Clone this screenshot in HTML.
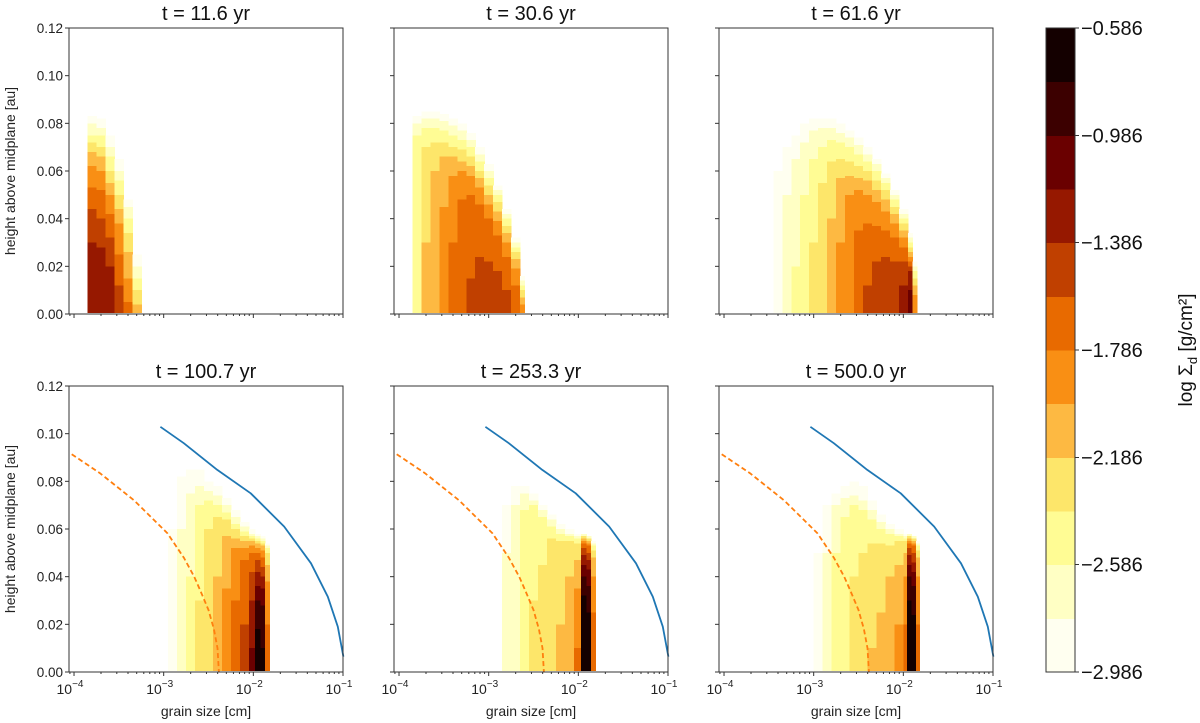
<!DOCTYPE html>
<html><head><meta charset="utf-8"><style>
html,body{margin:0;padding:0;background:#fff}
svg{display:block;font-family:"Liberation Sans","DejaVu Sans",sans-serif}
</style></head><body>
<svg id="fig" width="1200" height="723" viewBox="0 0 1200 723" xmlns="http://www.w3.org/2000/svg">
<g id="plots"></g>
</svg>
<script>
// ---- data ----
const levelColors = ["#fffff0","#ffffc4","#fffc94","#fde66a","#fdb942","#f98f14","#e86a00","#c04000","#961800","#6a0000","#3c0000","#140000"];
const colorbarTicks = ["−0.586","−0.986","−1.386","−1.786","−2.186","−2.586","−2.986"];
const panelTitles = ["t = 11.6 yr","t = 30.6 yr","t = 61.6 yr","t = 100.7 yr","t = 253.3 yr","t = 500.0 yr"];
const yTicks = [0,0.02,0.04,0.06,0.08,0.10,0.12];
const yTickLabels = ["0.00","0.02","0.04","0.06","0.08","0.10","0.12"];
const xTickExp = [-4,-3,-2,-1];
// column edges (log10 grain size) and level heights (au) per panel
const edges1 = [-3.85,-3.75,-3.65,-3.55,-3.45,-3.35,-3.25];
const cols1 = [
 [0.083,0.08,0.075,0.072,0.068,0.062,0.053,0.044,0.03],
 [0.082,0.078,0.075,0.07,0.066,0.06,0.052,0.04,0.028],
 [0.075,0.07,0.066,0.06,0.055,0.05,0.042,0.032,0.02],
 [0.065,0.06,0.056,0.05,0.044,0.038,0.025,0.012],
 [0.048,0.045,0.04,0.034,0.026,0.015,0.005],
 [0.025,0.02,0.015,0.01,0.004]];
const edges2 = [-3.85,-3.75,-3.65,-3.55,-3.45,-3.35,-3.25,-3.15,-3.05,-2.95,-2.85,-2.75,-2.65,-2.6];
const cols2 = [
 [0.083,0.08,0.075],
 [0.085,0.082,0.078,0.07,0.03],
 [0.085,0.082,0.078,0.072,0.06],
 [0.084,0.081,0.077,0.072,0.066,0.045],
 [0.082,0.079,0.075,0.07,0.066,0.058,0.03],
 [0.08,0.077,0.073,0.069,0.064,0.06,0.048],
 [0.076,0.073,0.07,0.066,0.062,0.058,0.05,0.015],
 [0.07,0.067,0.064,0.06,0.057,0.053,0.046,0.024],
 [0.063,0.06,0.057,0.054,0.05,0.046,0.04,0.022],
 [0.054,0.052,0.05,0.047,0.043,0.039,0.033,0.018],
 [0.044,0.042,0.04,0.037,0.034,0.03,0.024,0.01],
 [0.032,0.03,0.028,0.026,0.023,0.019,0.012],
 [0.016,0.014,0.012,0.01,0.007,0.004]];
const edges3 = [-3.45,-3.35,-3.25,-3.15,-3.05,-2.95,-2.85,-2.75,-2.65,-2.55,-2.45,-2.35,-2.25,-2.15,-2.05,-1.95,-1.9,-1.85];
const cols3 = [
 [0.06],[0.07,0.05],[0.075,0.065,0.02],[0.08,0.072,0.05],[0.082,0.077,0.065,0.03],
 [0.082,0.078,0.07,0.055],[0.082,0.078,0.073,0.064,0.04],[0.08,0.076,0.072,0.065,0.057,0.03],
 [0.077,0.074,0.07,0.064,0.058,0.05],[0.074,0.071,0.067,0.062,0.057,0.052,0.035],
 [0.07,0.067,0.064,0.06,0.056,0.05,0.038,0.012],[0.065,0.063,0.06,0.056,0.052,0.047,0.037,0.022],
 [0.059,0.057,0.055,0.052,0.048,0.043,0.035,0.024],[0.052,0.05,0.048,0.045,0.042,0.038,0.032,0.022],
 [0.044,0.042,0.04,0.038,0.035,0.032,0.028,0.022,0.012],
 [0.034,0.032,0.03,0.028,0.026,0.024,0.022,0.02,0.018,0.01],
 [0.022,0.02,0.018,0.015,0.012,0.008]];
const edges4 = [-2.95,-2.85,-2.75,-2.65,-2.55,-2.45,-2.35,-2.25,-2.15,-2.05,-1.98,-1.92,-1.87,-1.82];
const cols4 = [
 [0.06],[0.082,0.06],[0.085,0.075,0.04],[0.085,0.078,0.07,0.03],[0.08,0.076,0.072,0.06],
 [0.078,0.074,0.07,0.065,0.04],[0.073,0.07,0.067,0.064,0.057,0.035],
 [0.068,0.065,0.062,0.06,0.056,0.052,0.03],[0.063,0.061,0.059,0.057,0.055,0.052,0.047,0.02],
 [0.06,0.058,0.057,0.056,0.055,0.053,0.05,0.042,0.03,0.01],
 [0.058,0.057,0.056,0.055,0.054,0.052,0.05,0.047,0.042,0.036,0.03,0.018],
 [0.057,0.056,0.055,0.054,0.053,0.051,0.048,0.044,0.04,0.035,0.028,0.01],
 [0.054,0.053,0.052,0.05,0.045,0.038,0.02]];
const edges5 = [-2.85,-2.75,-2.65,-2.55,-2.45,-2.35,-2.25,-2.15,-2.05,-1.97,-1.91,-1.86,-1.81];
const cols5 = [
 [0.07,0.05],[0.078,0.07],[0.078,0.075,0.068],[0.075,0.072,0.07,0.03],[0.07,0.068,0.065,0.045],
 [0.066,0.064,0.061,0.056],[0.062,0.06,0.058,0.055,0.02],[0.06,0.058,0.057,0.055,0.04],
 [0.058,0.057,0.056,0.054,0.047,0.035,0.01],
 [0.058,0.058,0.057,0.057,0.056,0.055,0.054,0.052,0.049,0.045,0.04,0.032],
 [0.057,0.057,0.056,0.056,0.055,0.054,0.053,0.05,0.047,0.043,0.036,0.025],
 [0.055,0.054,0.053,0.051,0.048,0.04,0.025]];
const edges6 = [-3.0,-2.9,-2.8,-2.7,-2.6,-2.5,-2.4,-2.3,-2.2,-2.1,-2.0,-1.96,-1.91,-1.86,-1.82];
const cols6 = [
 [0.05],[0.07,0.05],[0.075,0.07,0.05],[0.078,0.073,0.065],[0.08,0.074,0.07,0.04],
 [0.078,0.072,0.068,0.05],[0.072,0.068,0.064,0.054,0.01],[0.066,0.063,0.06,0.054,0.025],
 [0.062,0.06,0.058,0.053,0.04],[0.06,0.058,0.057,0.055,0.045,0.02],[0.058,0.057,0.056,0.055,0.05,0.04,0.02],
 [0.058,0.058,0.057,0.057,0.056,0.055,0.054,0.052,0.049,0.045,0.04,0.03],
 [0.057,0.057,0.056,0.056,0.055,0.054,0.053,0.05,0.046,0.042,0.036,0.024],
 [0.055,0.054,0.053,0.051,0.048,0.04,0.02]];
// curves (bottom row)
const blueLogA = [-3.037,-2.776,-2.402,-2.029,-1.656,-1.357,-1.170,-1.058,-0.995];
const blueH = [0.1029,0.096,0.0848,0.075,0.061,0.0456,0.0316,0.019,0.0064];
const orangeLogA = [-4.026,-3.71,-3.33,-2.96,-2.776,-2.66,-2.589,-2.50,-2.44,-2.40,-2.384];
const orangeH = [0.0914,0.0834,0.072,0.0583,0.048,0.040,0.034,0.026,0.018,0.010,0.0];

// ---- layout ----
const NS="http://www.w3.org/2000/svg";
const root=document.getElementById('plots');
const PW=274, PH=286, lefts=[69,394,719], tops=[28,386];
const XMIN=-4.056, XMAX=-1.0, YMAX=0.12;
function mk(tag,attrs,parent){const e=document.createElementNS(NS,tag);for(const k in attrs)e.setAttribute(k,attrs[k]);(parent||root).appendChild(e);return e;}
const allEdges=[edges1,edges2,edges3,edges4,edges5,edges6];
const allCols=[cols1,cols2,cols3,cols4,cols5,cols6];

for(let p=0;p<6;p++){
  const r=Math.floor(p/3), c=p%3, L=lefts[c], T=tops[r];
  const xs=v=>L+(v-XMIN)/(XMAX-XMIN)*PW;
  const ys=v=>T+PH-v/YMAX*PH;
  const g=mk('g',{});
  
  
  const hm=mk('g',{'shape-rendering':'crispEdges'},g);
  
  
  const ed=allEdges[p], cl=allCols[p];
  for(let i=0;i<cl.length;i++){
    const x0=xs(ed[i]), x1=xs(ed[i+1]);
    cl[i].forEach((h,k)=>{
      const rc=mk('rect',{x:x0,y:ys(h),width:x1-x0+0.6,height:ys(0)-ys(h)-1,fill:levelColors[k]},hm);
      
      
    });
  }
  if(r===1){
    const lineStr=(xa,ya)=>xa.map((v,i)=>xs(v).toFixed(1)+','+ys(ya[i]).toFixed(1)).join(' ');
    const ob=mk('polyline',{points:lineStr(orangeLogA,orangeH),fill:'none',stroke:'#ff7f0e','stroke-width':1.8,'stroke-dasharray':'5,3','stroke-linejoin':'round'},g);
    
    
    const bl=mk('polyline',{points:lineStr(blueLogA,blueH),fill:'none',stroke:'#1f77b4','stroke-width':1.8,'stroke-linejoin':'round'},g);
    
    
  }
  const fr=mk('rect',{x:L,y:T,width:PW,height:PH,fill:'none',stroke:'#333','stroke-width':1},g);
  
  
  yTicks.forEach((v,i)=>{
    mk('line',{x1:L-4,x2:L,y1:ys(v),y2:ys(v),stroke:'#333'},g);
    if(c===0){
      const t=mk('text',{x:L-6,y:ys(v)+5,'text-anchor':'end','font-size':13.5,fill:'#222'},g);
      t.textContent=yTickLabels[i];
      
      
    }
  });
  for(let e=-5;e<=-1;e++){
    for(let m=1;m<10;m++){
      const lv=e+Math.log10(m);
      if(lv<XMIN-1e-6||lv>XMAX+1e-6)continue;
      const len=m===1?4:2;
      mk('line',{x1:xs(lv),x2:xs(lv),y1:T+PH,y2:T+PH+len,stroke:'#333'},g);
    }
  }
  if(r===1){
    xTickExp.forEach(e=>{
      const t=mk('text',{x:xs(e)-4,y:T+PH+22,'text-anchor':'middle','font-size':14,fill:'#222'},g);
      
      
      t.textContent='10';
      const s=mk('tspan',{dy:-7,'font-size':10},t); s.textContent='−'+Math.abs(e);
    });
    const xl=mk('text',{x:L+PW/2,y:716,'text-anchor':'middle','font-size':14,fill:'#222'},g);
    xl.textContent='grain size [cm]';
    
    
  }
  if(c===0){
    const yl=mk('text',{x:0,y:0,transform:`translate(15,${T+PH/2}) rotate(-90)`,'text-anchor':'middle','font-size':14,fill:'#222'},g);
    yl.textContent='height above midplane [au]';
    
    
  }
  const tt=mk('text',{x:L+PW/2,y:T-8,'text-anchor':'middle','font-size':20,fill:'#111'},g);
  tt.textContent=panelTitles[p];
  
  
}
// colorbar
const cb=mk('g',{'shape-rendering':'crispEdges'});


const CBX=1046,CBW=29,CBT=28,CBB=672,nb=levelColors.length,bh=(CBB-CBT)/nb;
levelColors.forEach((col,k)=>{
  const r=mk('rect',{x:CBX,y:CBB-(k+1)*bh,width:CBW,height:bh+0.5,fill:col},cb);
  
  
});
mk('rect',{x:CBX,y:CBT,width:CBW,height:CBB-CBT,fill:'none',stroke:'#333'},cb);
colorbarTicks.forEach((lab,i)=>{
  const y=CBT+i*(CBB-CBT)/(colorbarTicks.length-1);
  mk('line',{x1:CBX+CBW,x2:CBX+CBW+4,y1:y,y2:y,stroke:'#333'},cb);
  const t=mk('text',{x:CBX+CBW+6,y:y+7,'font-size':20,fill:'#111'},cb);
  t.textContent=lab;
  
  
});
const cl=mk('text',{x:0,y:0,transform:'translate(1192,350) rotate(-90)','text-anchor':'middle','font-size':19,fill:'#111'});


cl.textContent='log Σ';
const sub=mk('tspan',{dy:5,'font-size':13},cl); sub.textContent='d';
const rest=mk('tspan',{dy:-5},cl); rest.textContent=' [g/cm²]';
</script>
</body></html>
